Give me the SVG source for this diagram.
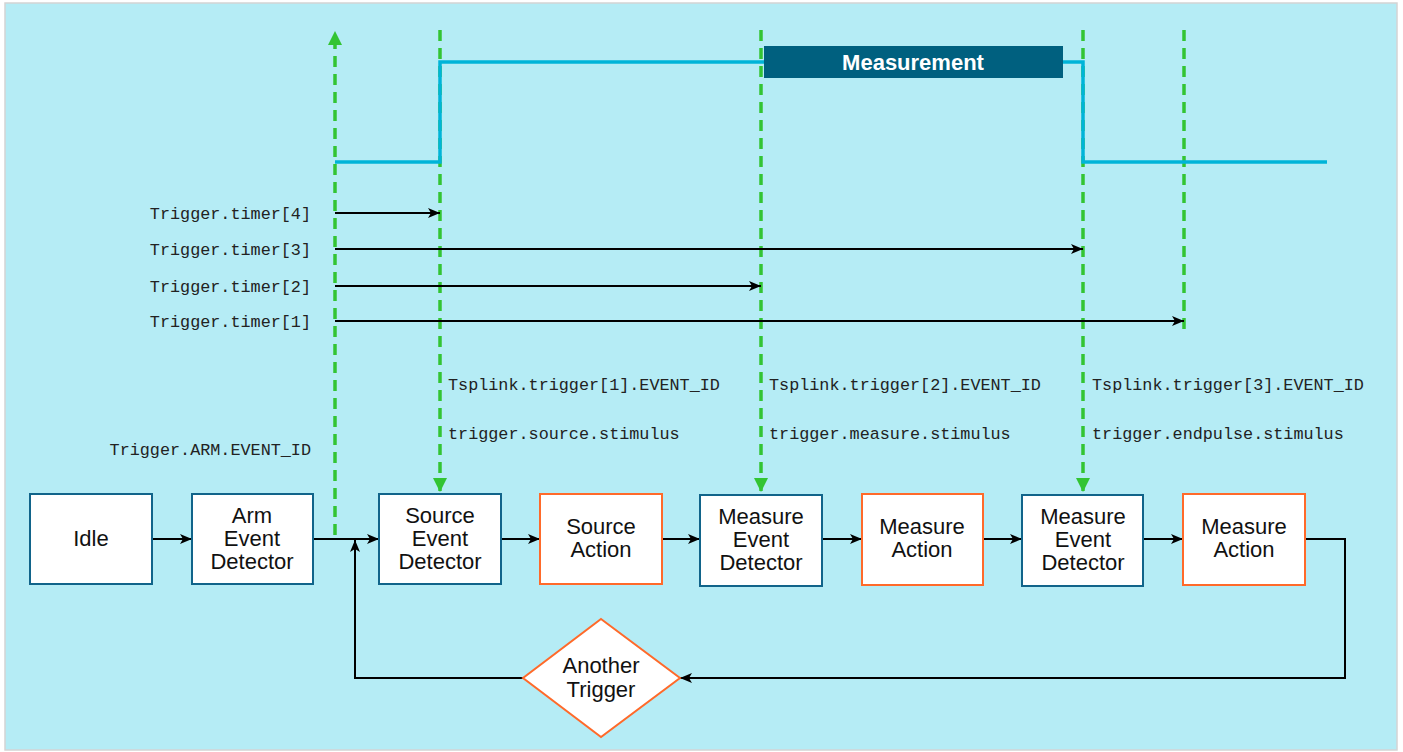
<svg xmlns="http://www.w3.org/2000/svg" width="1403" height="752" viewBox="0 0 1403 752">
<style>
.bg{fill:#b5ecf5;stroke:#d4d4d4;stroke-width:1.5}
.det{fill:#fff;stroke:#11648a;stroke-width:2}
.act{fill:#fff;stroke:#ff6a2a;stroke-width:2}
.lbl{font-family:"Liberation Sans",Arial,sans-serif;font-size:22px;fill:#111;text-anchor:middle}
.mono{font-family:"Liberation Mono","Courier New",monospace;font-size:16.8px;fill:#222}
.green{stroke:#33c433;stroke-width:3.5;stroke-dasharray:11 7;fill:none}
.conn{stroke:#000;stroke-width:2;fill:none}
.sig{stroke:#00b4d8;stroke-width:3.5;fill:none}
</style>
<defs>
<marker id="ah" viewBox="0 0 12 10" refX="12" refY="5" markerWidth="12" markerHeight="10" markerUnits="userSpaceOnUse" orient="auto">
<path d="M0,0 L12,5 L0,10 L3,5 Z" fill="#000"/>
</marker>
<marker id="gh" viewBox="0 0 14 14" refX="14" refY="7" markerWidth="14" markerHeight="14" markerUnits="userSpaceOnUse" orient="auto">
<path d="M0,0 L14,7 L0,14 Z" fill="#33c433"/>
</marker>
</defs>
<rect class="bg" x="5" y="3" width="1392" height="747"/>

<g id="green-lines">
<line class="green" x1="335" y1="535" x2="335" y2="31" marker-end="url(#gh)"/>
<line class="green" x1="440" y1="30" x2="440" y2="492" marker-end="url(#gh)"/>
<line class="green" x1="761" y1="30" x2="761" y2="492" marker-end="url(#gh)"/>
<line class="green" x1="1083" y1="30" x2="1083" y2="492" marker-end="url(#gh)"/>
<line class="green" x1="1184" y1="30" x2="1184" y2="336"/>
</g>

<g id="signal">
<polyline class="sig" points="335,162 440,162 440,62 1083,62 1083,162 1327,162"/>
<rect x="764" y="46" width="299" height="32" fill="#00607f"/>
<text x="913" y="70" font-family="Liberation Sans,Arial,sans-serif" font-size="22" font-weight="bold" fill="#fff" text-anchor="middle">Measurement</text>
</g>

<g id="timers">
<line class="conn" x1="335" y1="213" x2="440" y2="213" marker-end="url(#ah)"/>
<line class="conn" x1="335" y1="249" x2="1083" y2="249" marker-end="url(#ah)"/>
<line class="conn" x1="335" y1="286" x2="761" y2="286" marker-end="url(#ah)"/>
<line class="conn" x1="335" y1="321" x2="1184" y2="321" marker-end="url(#ah)"/>
<text class="mono" x="311" y="219" text-anchor="end">Trigger.timer[4]</text>
<text class="mono" x="311" y="255" text-anchor="end">Trigger.timer[3]</text>
<text class="mono" x="311" y="292" text-anchor="end">Trigger.timer[2]</text>
<text class="mono" x="311" y="327" text-anchor="end">Trigger.timer[1]</text>
</g>

<g id="event-labels">
<text class="mono" x="311" y="455" text-anchor="end">Trigger.ARM.EVENT_ID</text>
<text class="mono" x="448" y="390">Tsplink.trigger[1].EVENT_ID</text>
<text class="mono" x="448" y="439">trigger.source.stimulus</text>
<text class="mono" x="769" y="390">Tsplink.trigger[2].EVENT_ID</text>
<text class="mono" x="769" y="439">trigger.measure.stimulus</text>
<text class="mono" x="1092" y="390">Tsplink.trigger[3].EVENT_ID</text>
<text class="mono" x="1092" y="439">trigger.endpulse.stimulus</text>
</g>

<g id="connectors">
<line class="conn" x1="152" y1="539" x2="192" y2="539" marker-end="url(#ah)"/>
<line class="conn" x1="313" y1="539" x2="379" y2="539" marker-end="url(#ah)"/>
<line class="conn" x1="501" y1="539" x2="540" y2="539" marker-end="url(#ah)"/>
<line class="conn" x1="662" y1="539" x2="700" y2="539" marker-end="url(#ah)"/>
<line class="conn" x1="822" y1="539" x2="862" y2="539" marker-end="url(#ah)"/>
<line class="conn" x1="983" y1="539" x2="1022" y2="539" marker-end="url(#ah)"/>
<line class="conn" x1="1143" y1="539" x2="1183" y2="539" marker-end="url(#ah)"/>
<polyline class="conn" points="1305,539 1345,539 1345,678 680,678" marker-end="url(#ah)"/>
<polyline class="conn" points="523,678 355,678 355,540" marker-end="url(#ah)"/>
</g>

<g id="idle"><rect class="det" x="30" y="494" width="122" height="90"/><text class="lbl" x="91" y="546">Idle</text></g>
<g id="arm"><rect class="det" x="192" y="494" width="121" height="90"/><text class="lbl" x="252" y="523">Arm</text><text class="lbl" x="252" y="546">Event</text><text class="lbl" x="252" y="569">Detector</text></g>
<g id="source-det"><rect class="det" x="379" y="494" width="122" height="90"/><text class="lbl" x="440" y="523">Source</text><text class="lbl" x="440" y="546">Event</text><text class="lbl" x="440" y="569">Detector</text></g>
<g id="source-act"><rect class="act" x="540" y="494" width="122" height="90"/><text class="lbl" x="601" y="534">Source</text><text class="lbl" x="601" y="557">Action</text></g>
<g id="measure-det1"><rect class="det" x="700" y="495" width="122" height="91"/><text class="lbl" x="761" y="524">Measure</text><text class="lbl" x="761" y="547">Event</text><text class="lbl" x="761" y="570">Detector</text></g>
<g id="measure-act1"><rect class="act" x="862" y="494" width="121" height="91"/><text class="lbl" x="922" y="534">Measure</text><text class="lbl" x="922" y="557">Action</text></g>
<g id="measure-det2"><rect class="det" x="1022" y="495" width="121" height="91"/><text class="lbl" x="1083" y="524">Measure</text><text class="lbl" x="1083" y="547">Event</text><text class="lbl" x="1083" y="570">Detector</text></g>
<g id="measure-act2"><rect class="act" x="1183" y="494" width="122" height="91"/><text class="lbl" x="1244" y="534">Measure</text><text class="lbl" x="1244" y="557">Action</text></g>
<g id="another-trigger"><polygon class="act" points="601,619 680,678 601,737 523,678"/><text class="lbl" x="601" y="673">Another</text><text class="lbl" x="601" y="697">Trigger</text></g>
</svg>
